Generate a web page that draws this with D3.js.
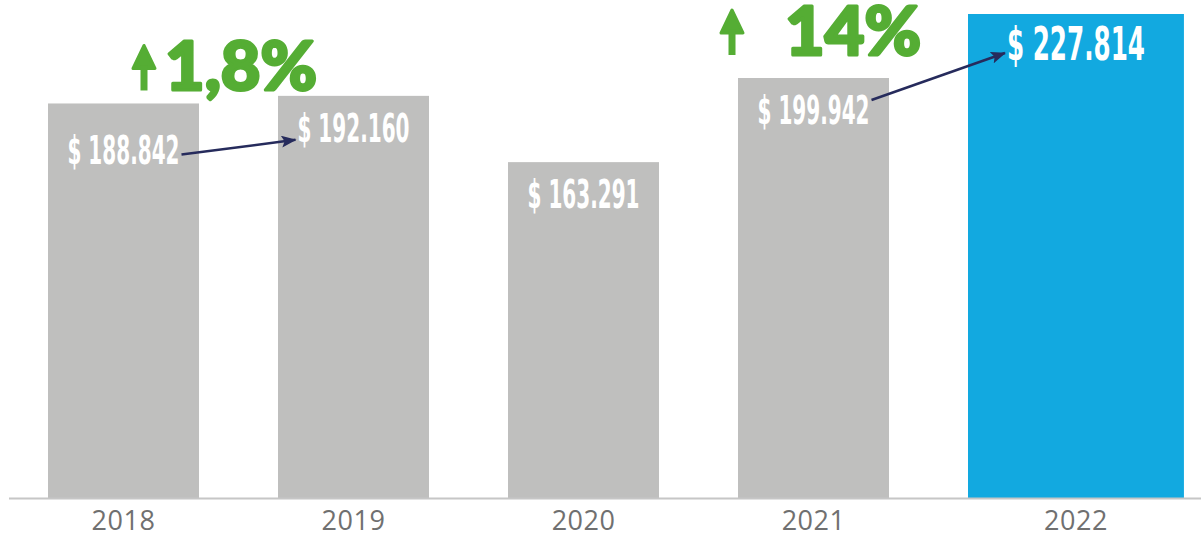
<!DOCTYPE html>
<html>
<head>
<meta charset="utf-8">
<script src="https://cdn.jsdelivr.net/npm/d3@7"></script>
<style>
  body { margin: 0; background: #fff; }
</style>
</head>
<body>
<svg id="chart" width="1201" height="534"></svg>
<script>
// data
var years = ["2018", "2019", "2020", "2021", "2022"];
var values = [188842, 192160, 163291, 199942, 227814];
var valueLabels = ["$ 188.842", "$ 192.160", "$ 163.291", "$ 199.942", "$ 227.814"];
var highlightYear = "2022";

var growthFrom = ["2018", "2021"];
var growthTo = ["2019", "2022"];
var growthLabels = ["1,8%", "14%"];

var svg = d3.select("#chart"),
    width = +svg.attr("width"),
    height = +svg.attr("height"),
    baseline = 498;

var gray = "#bfbfbe",
    blue = "#12a9e0",
    green = "#55ad34",
    navy = "#262b5c";

var x = d3.scaleBand()
    .domain(years)
    .range([48, 1119])
    .paddingInner(0.3435)
    .paddingOuter(0);

var y = d3.scaleLinear()
    .domain([17000, d3.max(values)])
    .range([baseline, 14]);

var data = years.map(function (d, i) {
    return {year: d, value: values[i], label: valueLabels[i]};
});
var byYear = {};
data.forEach(function (d) { byYear[d.year] = d; });

function barWidth(year) {
    return year === highlightYear ? x.bandwidth() * 1.43 : x.bandwidth();
}
function barCenter(year) {
    return x(year) + barWidth(year) / 2;
}

// bars
svg.selectAll(".bar")
    .data(data)
    .enter().append("rect")
    .attr("class", "bar")
    .attr("x", function (d) { return x(d.year); })
    .attr("y", function (d) { return y(d.value); })
    .attr("width", function (d) { return barWidth(d.year); })
    .attr("height", function (d) { return baseline - y(d.value); })
    .attr("fill", function (d) { return d.year === highlightYear ? blue : gray; });

// baseline
svg.append("line")
    .attr("x1", 9)
    .attr("x2", width)
    .attr("y1", baseline + 0.5)
    .attr("y2", baseline + 0.5)
    .attr("stroke", "#c6c6c6")
    .attr("stroke-width", 2);

// year axis, ticks moved to the bar centres
var axis = svg.append("g")
    .attr("transform", "translate(0," + baseline + ")")
    .call(d3.axisBottom(x).tickSize(0).tickPadding(13));
axis.select(".domain").remove();
axis.selectAll(".tick")
    .attr("transform", function (d) { return "translate(" + barCenter(d) + ",0)"; });
axis.selectAll(".tick text")
    .attr("fill", "#707070")
    .attr("dy", "0.71em")
    .style("font-family", "'Open Sans', 'Noto Sans', sans-serif")
    .style("font-weight", 500)
    .style("font-size", "27px")
    .style("letter-spacing", "0.5px");

// value labels inside the bars
var labelDrop = {"2018": 15};
var labels = svg.selectAll(".value")
    .data(data)
    .enter().append("text")
    .attr("class", "value")
    .attr("x", function (d) { return barCenter(d.year); })
    .attr("y", function (d) { return y(d.value) + 46 + (labelDrop[d.year] || 0); })
    .attr("text-anchor", "middle")
    .attr("fill", "#fff")
    .style("font-family", "'Liberation Sans Narrow', 'DejaVu Sans Condensed', sans-serif")
    .style("font-weight", "bold")
    .style("font-size", function (d) { return d.year === highlightYear ? "46px" : "39px"; })
    .attr("textLength", function (d) { return d.year === highlightYear ? 138 : 112; })
    .attr("lengthAdjust", "spacingAndGlyphs")
    .text(function (d) { return d.label; });

var labelNodes = {};
labels.each(function (d) { labelNodes[d.year] = this; });

// navy connector arrows
svg.append("defs").append("marker")
    .attr("id", "head")
    .attr("markerUnits", "userSpaceOnUse")
    .attr("markerWidth", 16)
    .attr("markerHeight", 12)
    .attr("refX", 14)
    .attr("refY", 6)
    .attr("orient", "auto")
    .append("path")
    .attr("d", "M0,0 L15,6 L0,12 L3,6 Z")
    .attr("fill", navy);

growthFrom.forEach(function (from, i) {
    var a = labelNodes[from].getBBox(),
        b = labelNodes[growthTo[i]].getBBox(),
        ya = y(byYear[from].value) + 46 + (labelDrop[from] || 0),
        yb = y(byYear[growthTo[i]].value) + 46 + (labelDrop[growthTo[i]] || 0);
    svg.append("line")
        .attr("x1", a.x + a.width + 2)
        .attr("y1", ya - 10 - i * 14)
        .attr("x2", b.x - 2)
        .attr("y2", yb - 2 - i * 5)
        .attr("stroke", navy)
        .attr("stroke-width", 2.5)
        .attr("marker-end", "url(#head)");
});

// green growth annotations
var growthLayout = [
    {dx: 117, dy: -13, icon: -21, len: 152},
    {dx: 47, dy: -23, icon: -53, len: 136}
];

growthFrom.forEach(function (from, i) {
    var tx = x(from) + growthLayout[i].dx,
        ty = y(byYear[from].value) + growthLayout[i].dy,
        cx = tx + growthLayout[i].icon,
        top = ty - 47;

    svg.append("text")
        .attr("x", tx)
        .attr("y", ty)
        .attr("fill", green)
        .attr("stroke", green)
        .attr("stroke-width", 3)
        .attr("stroke-linejoin", "round")
        .attr("textLength", growthLayout[i].len)
        .attr("lengthAdjust", "spacingAndGlyphs")
        .style("font-family", "Lato, 'DejaVu Sans', sans-serif")
        .style("font-weight", 900)
        .style("font-size", "67px")
        .text(growthLabels[i]);

    svg.append("path")
        .attr("d", "M" + cx + "," + (top + 2) + " L" + (cx + 11) + "," + (top + 25) +
            " L" + (cx - 11) + "," + (top + 25) + " Z")
        .attr("fill", green)
        .attr("stroke", green)
        .attr("stroke-width", 3)
        .attr("stroke-linejoin", "round");

    svg.append("rect")
        .attr("x", cx - 3.5)
        .attr("y", top + 22)
        .attr("width", 7)
        .attr("height", 25)
        .attr("fill", green);
});
</script>
</body>
</html>
